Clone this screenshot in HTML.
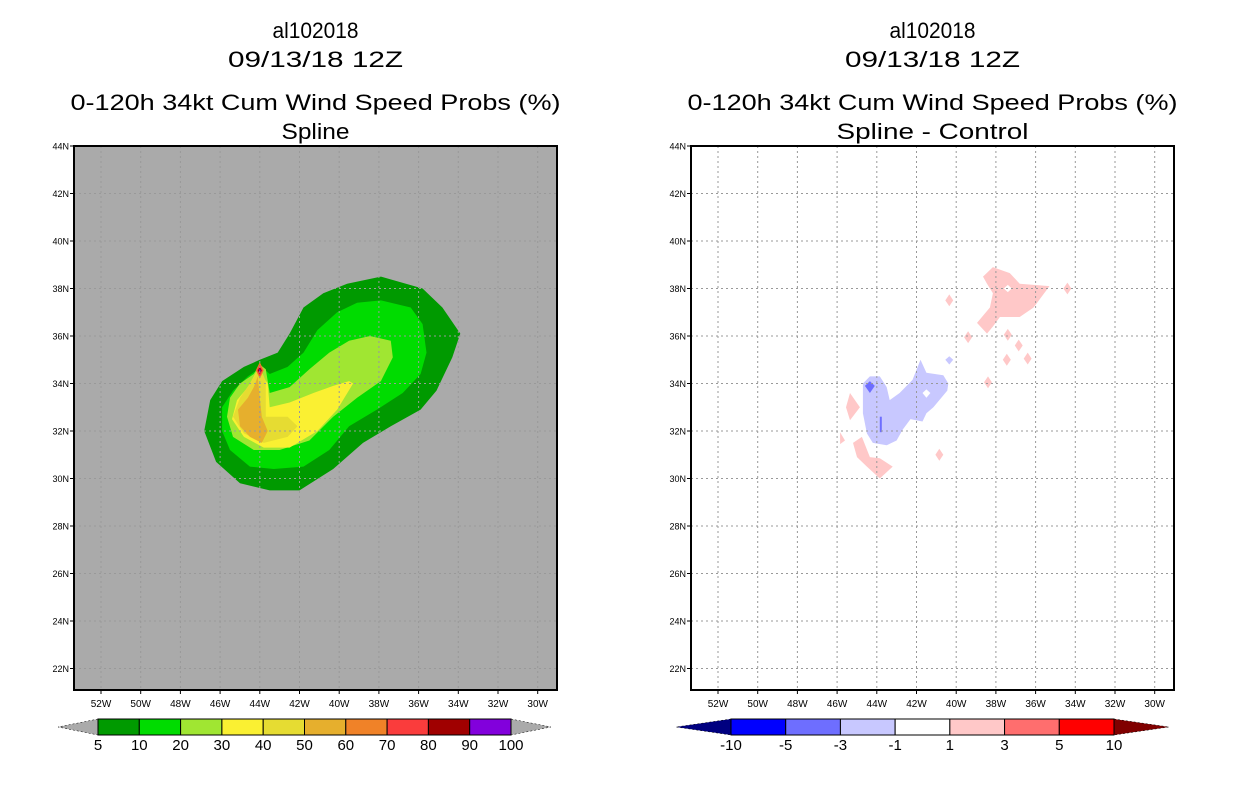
<!DOCTYPE html>
<html><head><meta charset="utf-8"><style>
html,body{margin:0;padding:0;background:#fff;width:1236px;height:800px;overflow:hidden}
svg text{font-family:"Liberation Sans",sans-serif;fill:#000}
</style></head><body>
<svg id="chart" width="1236" height="800" xmlns="http://www.w3.org/2000/svg"></svg>
<script>
// ---- data ----
const latTicks=[44,42,40,38,36,34,32,30,28,26,24,22];
const lonTicks=[52,50,48,46,44,42,40,38,36,34,32,30];
const leftLevels=["5","10","20","30","40","50","60","70","80","90","100"];
const leftColors=["#009a00","#00dc00","#a0e632","#faf032","#e6dc32","#e6af2d","#f08228","#fa3c3c","#a00000","#8200dc"];
const rightLevels=["-10","-5","-3","-1","1","3","5","10"];
const rightColors=["#0000ff","#6e6eff","#c8c8ff","#ffffff","#ffc8c8","#ff6e6e","#ff0000"];
// contour polygons: [lonW, latN]
const c5=[[39.6,38.2],[37.9,38.5],[35.8,38.0],[34.8,37.2],[33.9,36.1],[34.3,35.1],[35.1,33.7],[35.9,32.9],[37.4,32.2],[38.8,31.5],[40.3,30.4],[42.0,29.5],[43.5,29.5],[45.0,29.8],[46.2,30.7],[46.8,32.0],[46.5,33.3],[45.9,34.1],[44.8,34.7],[44.0,35.0],[43.1,35.3],[42.5,36.1],[41.8,37.2],[40.8,37.8]];
const c10=[[37.9,37.5],[36.4,37.2],[35.8,36.5],[35.6,35.3],[35.9,34.4],[36.8,33.6],[38.1,32.9],[39.5,32.2],[40.5,31.2],[41.8,30.5],[43.3,30.4],[44.5,30.5],[45.5,31.2],[45.9,32.0],[45.9,33.0],[45.35,33.7],[44.6,34.3],[43.9,34.7],[43.5,34.4],[42.6,34.7],[41.8,35.3],[41.1,36.25],[40.1,37.0],[39.1,37.4]];
const c20=[[38.45,36.0],[37.4,35.8],[37.3,35.1],[37.9,34.1],[39.1,33.4],[40.3,32.6],[41.5,31.6],[43.0,31.2],[44.3,31.2],[45.35,31.75],[45.65,32.6],[45.5,33.4],[45.0,34.0],[44.3,34.4],[44.0,34.8],[43.7,34.6],[43.5,33.6],[42.5,33.85],[41.5,34.6],[40.5,35.3],[39.5,35.8]];
const c30=[[39.5,34.1],[39.3,34.0],[40.1,32.9],[41.1,32.0],[42.5,31.3],[43.8,31.3],[44.8,31.75],[45.4,32.5],[45.15,33.3],[44.6,33.85],[44.1,34.6],[43.6,34.0],[43.5,33.0],[42.5,33.2],[41.3,33.6],[40.3,33.9]];
const c40=[[42.1,32.2],[42.6,31.75],[43.8,31.5],[44.8,31.9],[45.35,32.6],[45.0,33.4],[44.5,34.0],[44.0,34.7],[43.7,34.1],[43.7,32.6],[42.6,32.6]];
const c50=[[44.6,33.4],[44.3,33.85],[44.1,34.3],[44.0,33.4],[43.9,32.6],[43.6,32.0],[43.9,31.5],[44.5,31.75],[45.0,32.2],[45.1,32.9]];
const c60=[[44.0,34.9],[43.8,34.55],[44.0,34.2],[44.2,34.55]];
const c70=[[44.0,34.8],[43.85,34.55],[44.0,34.3],[44.15,34.55]];
const c80=[[44.0,34.7],[43.9,34.55],[44.0,34.4],[44.1,34.55]];
const c90=[[44.0,34.62],[43.95,34.55],[44.0,34.48],[44.05,34.55]];
const pinkNE=[[38.65,38.5],[38.15,38.9],[37.3,38.65],[36.8,38.2],[35.3,38.1],[36.1,37.2],[36.8,36.8],[37.8,36.8],[38.15,36.4],[38.45,36.1],[38.95,36.55],[38.3,37.2],[38.15,37.8],[38.45,38.2]];
const holeNE=[[37.4,38.15],[37.2,38.0],[37.4,37.85],[37.6,38.0]];
const blueMain=[[44.7,34.0],[44.35,34.3],[43.85,34.3],[43.5,33.85],[43.35,33.3],[42.85,33.6],[42.2,34.15],[41.8,35.0],[41.5,34.45],[40.65,34.35],[40.4,34.0],[40.45,33.7],[41.15,33.0],[41.5,32.75],[41.7,32.4],[42.3,32.5],[42.7,32.05],[43.0,31.6],[43.5,31.4],[44.2,31.5],[44.5,31.9],[44.7,32.75]];
const holeBlue=[[41.5,33.75],[41.3,33.6],[41.5,33.4],[41.7,33.6]];
const blueDark1=[[44.35,34.1],[44.1,33.9],[44.35,33.6],[44.6,33.9]];
const blueDark2=[[43.85,32.6],[43.75,32.6],[43.75,31.95],[43.85,31.95]];
const blueSmall=[[40.35,35.15],[40.15,35.0],[40.35,34.8],[40.55,35.0]];
const pinkSW=[[45.2,31.5],[44.75,31.75],[44.35,30.9],[43.85,30.85],[43.2,30.5],[43.85,30.0],[44.5,30.5],[45.0,30.9]];
const pinkW=[[45.35,33.6],[44.85,33.0],[45.35,32.45],[45.55,33.0]];
const pinkTiny=[[45.85,31.95],[45.6,31.6],[45.85,31.45]];
const pinkDots=[[39.4,35.95],[38.4,34.05],[37.45,35.0],[36.4,35.05],[37.4,36.05],[36.85,35.6],[34.4,38.0],[40.35,37.5],[40.85,31.0]];

// ---- layout ----
const NS='http://www.w3.org/2000/svg';
const svg=document.getElementById('chart');
function mk(tag,attrs,parent){const e=document.createElementNS(NS,tag);for(const k in attrs)e.setAttribute(k,attrs[k]);(parent||svg).appendChild(e);return e;}
const plotTop=146,plotBot=690,W=483;
function yScale(lat){return plotTop+(44-lat)*23.75;}
function xScaleFor(x0){return lon=>x0+27+(52-lon)*19.85;}

function poly(g,pts,xs,fill,name){
  const p=mk('polygon',{points:pts.map(d=>xs(d[0]).toFixed(1)+','+yScale(d[1]).toFixed(1)).join(' '),fill:fill},g);
  
  
}
function txt(x,y,s,size,anchor,len,name,parent){
  const t=mk('text',{x:x,y:y,'font-size':size,'text-anchor':anchor||'middle'},parent);
  if(len){t.setAttribute('textLength',len);t.setAttribute('lengthAdjust','spacingAndGlyphs');}
  t.textContent=s;
  
  
  return t;
}

function panel(x0,bg,subtitle,sublen,id){
  const xs=xScaleFor(x0);
  const g=mk('g',{});
  
  
  const cx=x0+W/2;
  txt(cx,38,'al102018',22,'middle',86,'title-storm-id',g);
  txt(cx,67,'09/13/18 12Z',22,'middle',175,'title-date',g);
  txt(cx,110,'0-120h 34kt Cum Wind Speed Probs (%)',22,'middle',490,'title-product',g);
  txt(cx,139,subtitle,22,'middle',sublen,'title-subtitle',g);
  const clipId='clip'+id;
  const cp=mk('clipPath',{id:clipId},g);
  mk('rect',{x:x0,y:plotTop,width:W,height:plotBot-plotTop},cp);
  const bgR=mk('rect',{x:x0,y:plotTop,width:W,height:plotBot-plotTop,fill:bg},g);
  
  
  const plot=mk('g',{'clip-path':'url(#'+clipId+')'},g);
  
  
  return {g,plot,xs};
}
function grid(pn,x0){
  const gg=mk('g',{stroke:'#999','stroke-width':1,'stroke-dasharray':'2,3'},pn.plot);
  
  
  lonTicks.forEach(l=>mk('line',{x1:pn.xs(l),x2:pn.xs(l),y1:plotTop,y2:plotBot},gg));
  latTicks.forEach(l=>mk('line',{x1:x0,x2:x0+W,y1:yScale(l),y2:yScale(l)},gg));
}
function axes(pn,x0){
  const fr=mk('rect',{x:x0,y:plotTop,width:W,height:plotBot-plotTop,fill:'none',stroke:'#000','stroke-width':2},pn.g);
  
  
  latTicks.forEach(l=>{
    mk('line',{x1:x0-4,x2:x0,y1:yScale(l),y2:yScale(l),stroke:'#000'},pn.g);
    txt(x0-5,yScale(l)+3.5,l+'N',9,'end',null,'lat-tick-label',pn.g);
  });
  lonTicks.forEach(l=>{
    mk('line',{x1:pn.xs(l),x2:pn.xs(l),y1:plotBot,y2:plotBot+4,stroke:'#000'},pn.g);
    txt(pn.xs(l),plotBot+17,l+'W',10,'middle',null,'lon-tick-label',pn.g);
  });
}

// left panel
const L=panel(74,'#aaaaaa','Spline',68,'left');
[c5,c10,c20,c30,c40,c50,c60,c70,c80,c90].forEach((c,i)=>poly(L.plot,c,L.xs,leftColors[i],'contour-'+leftLevels[i]+'pct'));
grid(L,74);
axes(L,74);

// right panel
const R=panel(691,'#ffffff','Spline - Control',192,'right');
poly(R.plot,pinkNE,R.xs,rightColors[4],'diff-positive-ne');
poly(R.plot,holeNE,R.xs,'#ffffff','diff-hole-ne');
poly(R.plot,blueMain,R.xs,rightColors[2],'diff-negative-main');
poly(R.plot,holeBlue,R.xs,'#ffffff','diff-hole-blue');
poly(R.plot,blueDark1,R.xs,rightColors[1],'diff-negative-strong-1');
poly(R.plot,blueDark2,R.xs,rightColors[1],'diff-negative-strong-2');
poly(R.plot,blueSmall,R.xs,rightColors[2],'diff-negative-small');
poly(R.plot,pinkSW,R.xs,rightColors[4],'diff-positive-sw');
poly(R.plot,pinkW,R.xs,rightColors[4],'diff-positive-w');
poly(R.plot,pinkTiny,R.xs,rightColors[4],'diff-positive-tiny');
pinkDots.forEach(d=>{
  poly(R.plot,[[d[0],d[1]+0.25],[d[0]-0.2,d[1]],[d[0],d[1]-0.25],[d[0]+0.2,d[1]]],R.xs,rightColors[4],'diff-positive-spot');
});
grid(R,691);
axes(R,691);

// colorbars
function colorbar(x1,x2,y,colors,labels,tipL,tipR,tipLen,name){
  const g=mk('g',{});
  
  
  const n=colors.length,w=(x2-x1)/n,h=16;
  mk('polygon',{points:`${x1},${y} ${x1-tipLen},${y+h/2} ${x1},${y+h}`,fill:tipL,stroke:'#000','stroke-width':0.5,'stroke-dasharray':'2,2'},g);
  mk('polygon',{points:`${x2},${y} ${x2+tipLen},${y+h/2} ${x2},${y+h}`,fill:tipR,stroke:'#000','stroke-width':0.5,'stroke-dasharray':'2,2'},g);
  colors.forEach((c,i)=>{
    const r=mk('rect',{x:x1+i*w,y:y,width:w,height:h,fill:c,stroke:'#000','stroke-width':1},g);
    
    
  });
  labels.forEach((s,i)=>txt(x1+i*w,y+h+15,s,15,'middle',null,'colorbar-label',g));
}
colorbar(98,511,719,leftColors,leftLevels,'#aaaaaa','#aaaaaa',40,'left-colorbar');
colorbar(731,1114,719,rightColors,rightLevels,'#000080','#800000',55,'right-colorbar');
</script>
</body></html>
